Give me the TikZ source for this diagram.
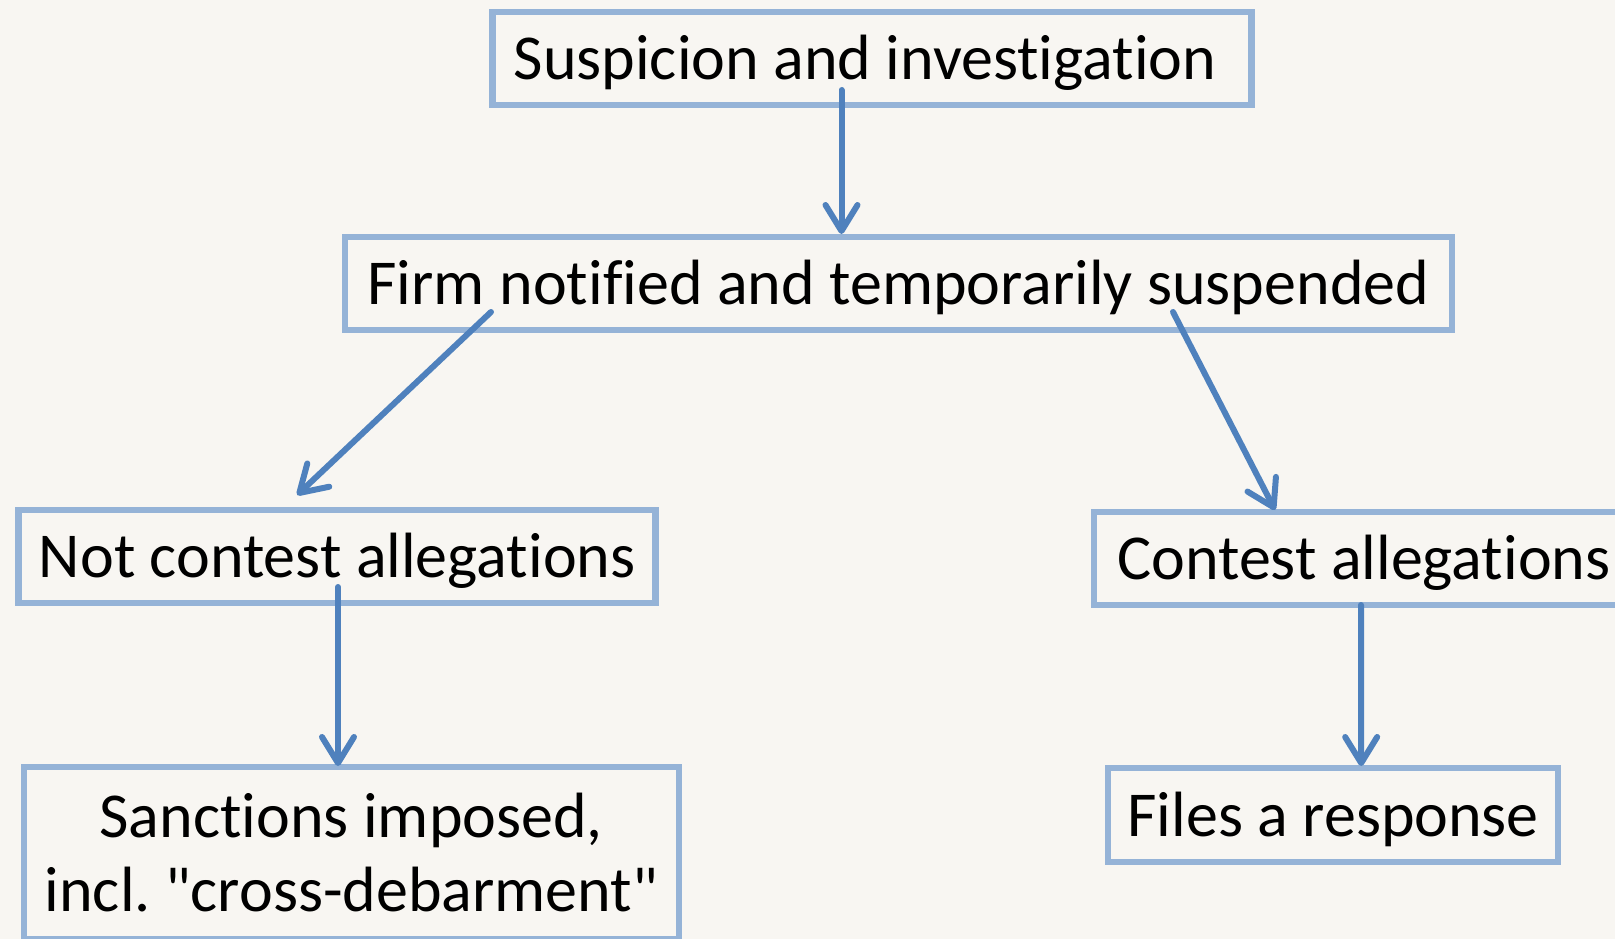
\documentclass[tikz,border=0pt]{standalone}
\usepackage{fontspec}
\setmainfont{Carlito}[Ligatures={NoCommon,TeXOff}]
\usetikzlibrary{arrows.meta,calc}
\definecolor{bgc}{HTML}{F8F6F2}
\definecolor{boxc}{HTML}{95B3D7}
\definecolor{arrc}{HTML}{4F81BD}
\tikzset{
  stepbox/.style={draw=boxc, line width=6.5pt, inner sep=0pt, outer sep=0pt,
    align=center, font=\fontsize{64}{74}\selectfont\frenchspacing, text=black},
  oneline/.style={text height=50pt, text depth=8pt},
  flow/.style={draw=arrc, line width=6pt, line cap=round, line join=round,
    -{Straight Barb[length=26pt,width=32pt,line cap=round,line join=round]}}
}
\begin{document}
\begin{tikzpicture}[x=1pt,y=-1pt]
\fill[bgc] (0,0) rectangle (1615,939);
\useasboundingbox (0,0) rectangle (1615,939);
\node[stepbox, oneline, minimum width=759pt, minimum height=93pt] (b1) at (872,58.5)
  {\hspace*{-14pt}Suspicion and investigation};
\node[stepbox, oneline, minimum width=1107pt, minimum height=93pt] (b2) at (898.5,283.5)
  {Firm notified and temporarily suspended};
\node[stepbox, oneline, minimum width=637pt, minimum height=93pt] (b3) at (337.2,556.5)
  {Not contest allegations};
\node[stepbox, oneline, minimum width=560pt, minimum height=93pt] (b4) at (1374,558.5)
  {\hspace*{-20pt}Contest allegations};
\node[stepbox, minimum width=655pt, minimum height=172pt] (b5) at (351.3,853)
  {Sanctions imposed,\\incl. "cross-debarment"};
\node[stepbox, oneline, minimum width=450pt, minimum height=94pt] (b6) at (1333.2,815)
  {Files a response};
\draw[flow] ($(b1.south)+(-30.5,-15)$) -- ($(b2.north)+(-57,-3)$);
\draw[flow] ($(b2.south west)+(146,-18)$) -- ($(b3.north west)+(278.5,-15)$);
\draw[flow] ($(b2.south west)+(828,-18)$) -- ($(b4.north west)+(181,-2)$);
\draw[flow] ($(b3.south)+(0.8,-16)$) -- ($(b5.north)+(-13.3,-1)$);
\draw[flow] ($(b4.south west)+(267,0)$) -- ($(b6.north west)+(253,-2)$);
\end{tikzpicture}
\end{document}
